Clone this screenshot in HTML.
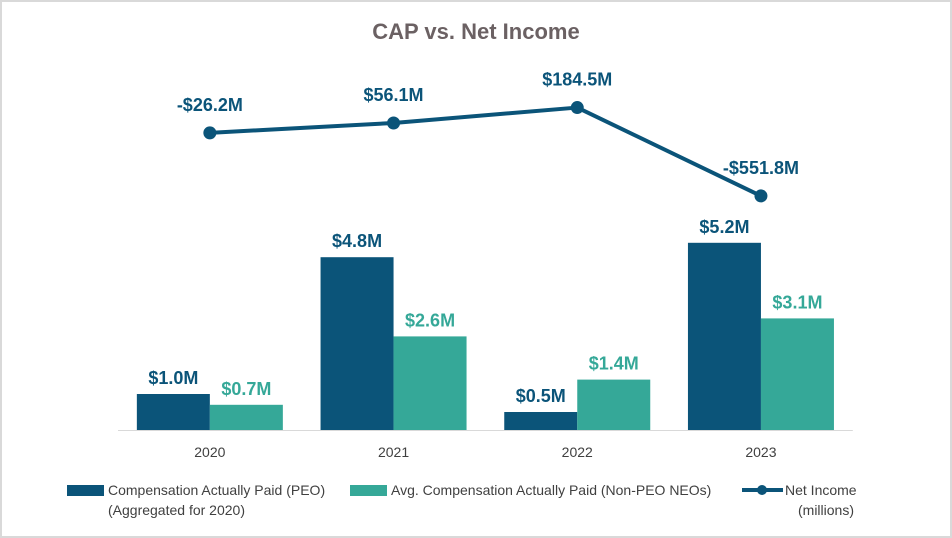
<!DOCTYPE html>
<html><head><meta charset="utf-8">
<style>
body{margin:0;background:#fff;}
#wrap{position:relative;width:952px;height:538px;box-sizing:border-box;border:2px solid #d9d9d9;background:#fff;overflow:hidden;}
svg{position:absolute;left:-2px;top:-2px;}
text{font-family:"Liberation Sans",sans-serif;}
</style></head>
<body>
<div id="wrap">
<svg id="chart" width="952" height="538"></svg>
</div>
<script>
const categories = ["2020","2021","2022","2023"];
const peoValues = [1.0, 4.8, 0.5, 5.2];
const neoValues = [0.7, 2.6, 1.4, 3.1];
const netIncome = [-26.2, 56.1, 184.5, -551.8];
const peoLabels = ["$1.0M","$4.8M","$0.5M","$5.2M"];
const neoLabels = ["$0.7M","$2.6M","$1.4M","$3.1M"];
const niLabels = ["-$26.2M","$56.1M","$184.5M","-$551.8M"];

const NS="http://www.w3.org/2000/svg";
const svg=document.getElementById('chart');
const DARK="#0b5479", TEAL="#35a898";
function el(t,a,p){const e=document.createElementNS(NS,t);for(const k in a)e.setAttribute(k,a[k]);(p||svg).appendChild(e);return e;}
const x0=118, step=183.7, base=430, barW=73;
function xc(i){return x0+step*(i+0.5);}
function yBar(v){return base-36*v;}
function yLine(v){return 129.7-0.12*v;}

const title=el('text',{x:476,y:39,'text-anchor':'middle','font-size':22,'font-weight':'bold',fill:'#6b6163'});
title.textContent="CAP vs. Net Income";



categories.forEach((c,i)=>{
  const cx=xc(i);
  const b1=el('rect',{x:cx-barW,y:yBar(peoValues[i]),width:barW,height:base-yBar(peoValues[i]),fill:DARK});
  
  
  const b2=el('rect',{x:cx,y:yBar(neoValues[i]),width:barW,height:base-yBar(neoValues[i]),fill:TEAL});
  
  
  const l1=el('text',{x:cx-barW/2,y:yBar(peoValues[i])-10,'text-anchor':'middle','font-size':18,'font-weight':'bold',fill:DARK});
  l1.textContent=peoLabels[i];
  
  
  const l2=el('text',{x:cx+barW/2,y:yBar(neoValues[i])-10,'text-anchor':'middle','font-size':18,'font-weight':'bold',fill:TEAL});
  l2.textContent=neoLabels[i];
  
  
  const t=el('text',{x:cx,y:457,'text-anchor':'middle','font-size':14,fill:'#404040'});
  t.textContent=c;
  
  
});
const axis=el('line',{x1:x0,y1:base+0.5,x2:x0+step*4,y2:base+0.5,stroke:'#d9d9d9','stroke-width':1});



const pts=netIncome.map((v,i)=>xc(i)+','+yLine(v)).join(' ');
const line=el('polyline',{points:pts,fill:'none',stroke:DARK,'stroke-width':4,'stroke-linejoin':'round'});


netIncome.forEach((v,i)=>{
  const d=el('circle',{cx:xc(i),cy:yLine(v),r:6.5,fill:DARK});
  
  
  const t=el('text',{x:xc(i),y:yLine(v)-22,'text-anchor':'middle','font-size':18,'font-weight':'bold',fill:DARK});
  t.textContent=niLabels[i];
  
  
});

const lg=el('g',{});


const s1=el('rect',{x:67,y:485,width:37,height:11,fill:DARK},lg);


const t1=el('text',{x:108,y:495,'font-size':14,fill:'#404040'},lg);
t1.textContent="Compensation Actually Paid (PEO)";


const t1b=el('text',{x:108,y:515,'font-size':14,fill:'#404040'},lg);
t1b.textContent="(Aggregated for 2020)";


const s2=el('rect',{x:350,y:485,width:37,height:11,fill:TEAL},lg);


const t2=el('text',{x:391,y:495,'font-size':14,fill:'#404040'},lg);
t2.textContent="Avg. Compensation Actually Paid (Non-PEO NEOs)";


const s3=el('line',{x1:742,y1:490,x2:783,y2:490,stroke:DARK,'stroke-width':4},lg);


const s3c=el('circle',{cx:762,cy:490,r:5,fill:DARK},lg);


const t3=el('text',{x:785,y:495,'font-size':14,fill:'#404040'},lg);
t3.textContent="Net Income";


const t3b=el('text',{x:826,y:515,'text-anchor':'middle','font-size':14,fill:'#404040'},lg);
t3b.textContent="(millions)";


</script>
</body></html>
